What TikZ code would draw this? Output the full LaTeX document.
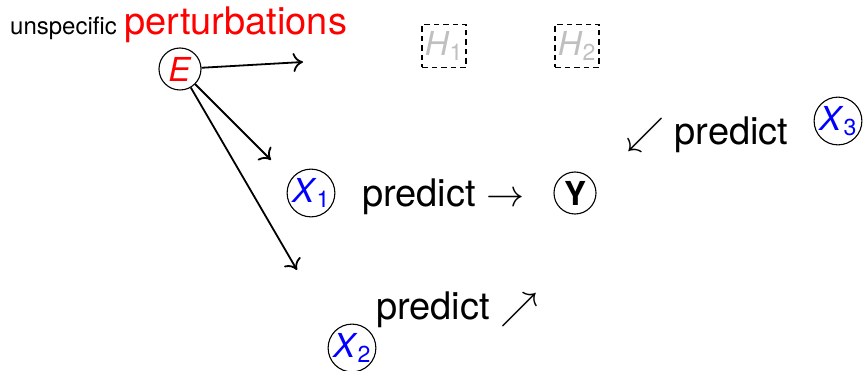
\RequirePackage{fix-cm}
\documentclass[tikz,border=0pt]{standalone}
\usepackage{fontspec}
\setmainfont{TeX Gyre Heros}
\usetikzlibrary{arrows.meta}
\begin{document}
\begin{tikzpicture}[x=1pt,y=-1pt,
  var/.style={draw,circle,line width=1.1pt,minimum size=42pt,inner sep=0pt,font=\fontsize{33}{36}\selectfont},
  hid/.style={draw,line width=1.2pt,dash pattern=on 5.5pt off 4pt,minimum width=44pt,minimum height=43pt,inner sep=0pt,text=black!25,font=\fontsize{33}{36}\selectfont},
  lbl/.style={inner sep=0pt,font=\fontsize{38}{40}\selectfont},
  arr/.style={line width=1.8pt,-{To[length=10pt,width=19pt]}}]
\useasboundingbox (0,0) rectangle (865,371);
\node[lbl,anchor=base west,font=\fontsize{24}{28}\selectfont] (uns) at (10,35) {unspecific};
\node[lbl,anchor=base west,text=red,font=\fontsize{38}{40}\selectfont] (pert) at (124,35) {perturbations};
\node[var,text=red] (E) at (180,69) {\textit{E}};
\node[hid] (H1) at (444,46) {\textit{H}\textsubscript{1}};
\node[hid] (H2) at (577,46) {\textit{H}\textsubscript{2}};
\node[var,text=blue] (X1) at (311,193) {\textit{X}\textsubscript{1}};
\node[var] (Y) at (575,193) {\textbf{Y}};
\node[var,text=blue] (X2) at (352,348) {\textit{X}\textsubscript{2}};
\node[var,text=blue] (X3) at (838,121) {\textit{X}\textsubscript{3}};
\node[lbl,anchor=base west] (p1) at (362,207) {predict $\rightarrow$};
\node[lbl,anchor=base west] (p2) at (376,320) {predict $\nearrow$};
\node[lbl,anchor=base west] (p3) at (626,145) {$\swarrow$ predict};
\coordinate (a1) at (303,62);
\coordinate (a2) at (271,160);
\coordinate (a3) at (297,270);
\draw[arr] (E) -- (a1);
\draw[arr] (E) -- (a2);
\draw[arr] (E) -- (a3);
\end{tikzpicture}
\end{document}
